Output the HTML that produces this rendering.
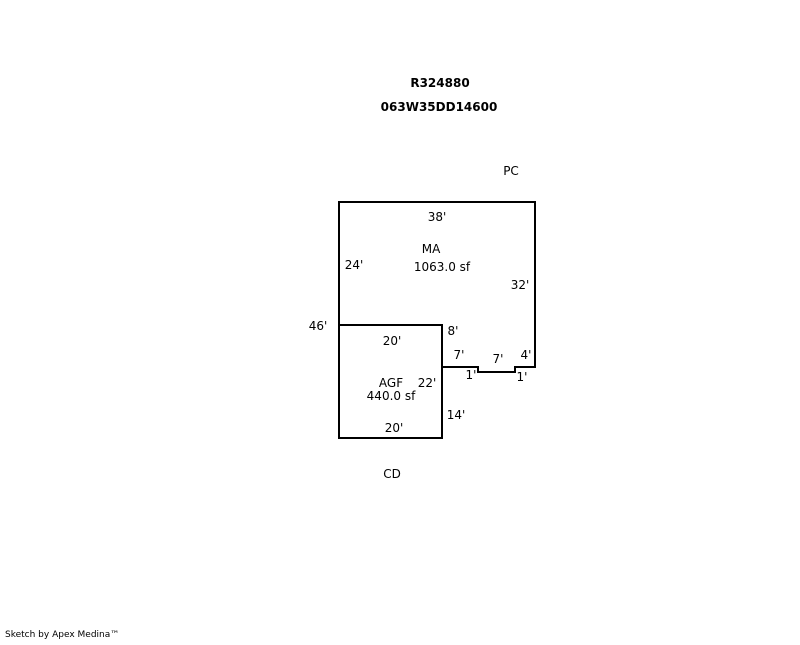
<!DOCTYPE html>
<html><head><style>
body{margin:0;background:#fff;width:800px;height:640px;overflow:hidden}
svg text{font-family:"DejaVu Sans","Liberation Sans",sans-serif;font-size:12px;fill:#000}
</style></head><body>
<svg width="800" height="640" xmlns="http://www.w3.org/2000/svg">
<text x="440" y="87" text-anchor="middle" font-weight="bold">R324880</text>
<text x="439" y="111" text-anchor="middle" font-weight="bold">063W35DD14600</text>
<text x="511" y="175" text-anchor="middle">PC</text>
<text x="392" y="478" text-anchor="middle">CD</text>
<g fill="none" stroke="#000" stroke-width="2">
<path d="M339,325 L339,202 L535,202 L535,367 L515,367 L515,372 L478,372 L478,367 L442,367"/>
<rect x="339" y="325" width="103" height="113"/>
</g>
<text x="437" y="221" text-anchor="middle">38'</text>
<text x="431" y="253" text-anchor="middle">MA</text>
<text x="442" y="271" text-anchor="middle">1063.0 sf</text>
<text x="354" y="269" text-anchor="middle">24'</text>
<text x="520" y="289" text-anchor="middle">32'</text>
<text x="318" y="330" text-anchor="middle">46'</text>
<text x="453" y="335" text-anchor="middle">8'</text>
<text x="392" y="345" text-anchor="middle">20'</text>
<text x="459" y="359" text-anchor="middle">7'</text>
<text x="498" y="363" text-anchor="middle">7'</text>
<text x="526" y="359" text-anchor="middle">4'</text>
<text x="471" y="379" text-anchor="middle">1'</text>
<text x="522" y="381" text-anchor="middle">1'</text>
<text x="391" y="387" text-anchor="middle">AGF</text>
<text x="427" y="387" text-anchor="middle">22'</text>
<text x="391" y="400" text-anchor="middle">440.0 sf</text>
<text x="456" y="419" text-anchor="middle">14'</text>
<text x="394" y="432" text-anchor="middle">20'</text>
<text x="5" y="637" style="font-size:9px">Sketch by Apex Medina™</text>
</svg>
</body></html>
